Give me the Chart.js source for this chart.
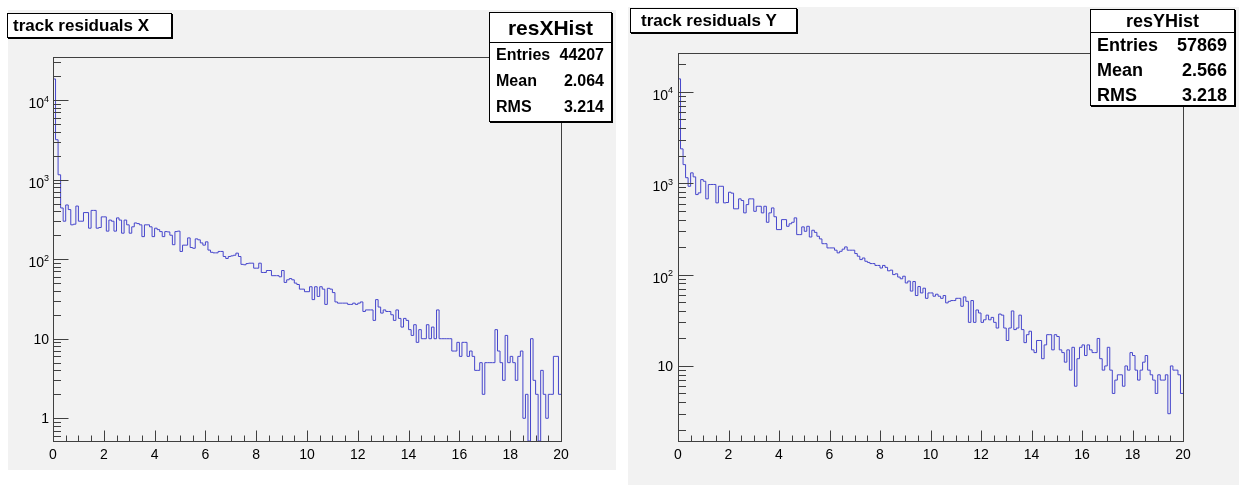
<!DOCTYPE html>
<html>
<head>
<meta charset="utf-8">
<title>track residuals</title>
<script src="https://cdn.jsdelivr.net/npm/chart.js@4.4.0/dist/chart.umd.min.js"></script>
<style>
  body { margin: 0; background: #fff; width: 1239px; height: 485px; position: relative; overflow: hidden;
         font-family: "Liberation Sans", Arial, Helvetica, sans-serif; }
  .pad { position: absolute; background: #f2f2f2; }
  canvas { position: absolute; top: 0; }
  .box { position: absolute; background: #fff; border: 1px solid #000; box-shadow: 1px 1px 0 #000;
         box-sizing: border-box; font-weight: bold; color: #000; white-space: nowrap; }
  .ttl { padding-left: 5px; }
  .hdr { text-align: center; border-bottom: 1px solid #000; }
  .row { display: flex; justify-content: space-between; }
</style>
</head>
<body>
<div class="pad" style="left:8px;top:10px;width:608px;height:460px"></div>
<div class="pad" style="left:628px;top:7px;width:611px;height:478px"></div>

<canvas id="chartX" width="620" height="485" style="left:0"></canvas>
<canvas id="chartY" width="619" height="485" style="left:620px"></canvas>

<div class="box ttl" style="left:7px;top:13px;width:165px;height:25px;font-size:17px;line-height:23px">track residuals X</div>
<div class="box" style="left:489px;top:12px;width:123px;height:110px;font-size:16px">
  <div class="hdr" style="height:29px;line-height:29px;font-size:21px">resXHist</div>
  <div style="padding:0 7px 0 6px;margin-top:-1px">
    <div class="row" style="line-height:26px"><span>Entries</span><span>44207</span></div>
    <div class="row" style="line-height:26px"><span>Mean</span><span>2.064</span></div>
    <div class="row" style="line-height:26px"><span>RMS</span><span>3.214</span></div>
  </div>
</div>

<div class="box ttl" style="left:630px;top:8px;width:167px;height:25px;font-size:17px;line-height:23px;padding-left:10px">track residuals Y</div>
<div class="box" style="left:1090px;top:9px;width:145px;height:97px;font-size:18px">
  <div class="hdr" style="height:22px;line-height:22px">resYHist</div>
  <div style="padding:0 7px 0 6px">
    <div class="row" style="line-height:25px"><span>Entries</span><span>57869</span></div>
    <div class="row" style="line-height:25px"><span>Mean</span><span>2.566</span></div>
    <div class="row" style="line-height:25px"><span>RMS</span><span>3.218</span></div>
  </div>
</div>

<script>
// 200 bins of width 0.1 from 0 to 20
const binWidth = 0.1;
const xTicks = [0, 2, 4, 6, 8, 10, 12, 14, 16, 18, 20];

// bin contents, track residuals X
const resX = [
  18400, 3170, 1150, 440, 300, 480, 420, 270, 275, 465,
  300, 300, 385, 385, 245, 410, 410, 245, 250, 340,
  340, 225, 310, 300, 225, 330, 310, 212, 310, 270,
  212, 255, 285, 280, 270, 192, 270, 270, 255, 192,
  245, 235, 222, 192, 222, 220, 200, 152, 222, 225,
  125, 150, 150, 185, 140, 137, 180, 175, 160, 150,
  165, 130, 122, 120, 120, 125, 125, 108, 102, 108,
  110, 112, 119, 108, 86, 85, 88, 89, 89, 77,
  77, 89, 68, 68, 72, 72, 62, 62, 62, 60,
  72, 51, 55, 57, 55, 50, 48, 42, 42, 39,
  39, 45, 31, 45, 34, 45, 42, 27, 43, 42,
  38, 29, 28, 28, 28, 28, 27, 27, 28, 27,
  28, 29, 22, 23, 23, 23, 17, 31, 25, 21,
  23, 22, 22, 20, 17, 23, 18, 14, 18, 17,
  13, 11, 15, 9, 13, 10, 10, 15, 10, 14,
  10, 23, 10, 10, 10, 10, 10, 7, 7, 9,
  6, 9, 9, 6, 7, 6, 4, 4, 5, 2,
  5, 5, 5, 5, 13, 7, 5, 3, 11, 5,
  6, 5, 3, 6, 7, 1, 2, 0, 10, 3,
  2, 0, 4, 2, 1, 2, 2, 6, 6, 2
];

// bin contents, track residuals Y
const resY = [
  13900, 2380, 1600, 1150, 927, 1300, 1175, 752, 785, 1097,
  1052, 675, 968, 970, 970, 610, 927, 927, 610, 615,
  798, 780, 525, 525, 675, 647, 474, 584, 675, 675,
  493, 560, 560, 474, 560, 374, 474, 537, 430, 311,
  311, 400, 400, 338, 360, 374, 418, 274, 274, 333,
  298, 338, 258, 306, 290, 263, 246, 218, 218, 196,
  196, 196, 185, 173, 180, 190, 201, 185, 185, 185,
  170, 159, 146, 152, 140, 136, 132, 132, 126, 126,
  118, 126, 120, 110, 112, 100, 102, 94, 90, 96,
  81, 85, 66, 84, 59, 74, 63, 71, 55, 63,
  63, 58, 61, 58, 55, 59, 49, 51, 52, 52,
  55, 55, 45, 57, 51, 30, 52, 30, 41, 38,
  30, 32, 36, 32, 34, 30, 26, 37, 36, 26,
  19, 26, 40, 25, 26, 36, 25, 18, 22, 24,
  15, 14, 19, 19, 12, 17, 22, 22, 15, 22,
  21, 15, 14, 11, 15, 9, 16, 6, 12, 16,
  17, 13, 17, 15, 14, 14, 20, 12, 9, 10,
  16, 9, 5, 7, 8, 8, 6, 10, 9, 14,
  13, 9, 7, 9, 11, 13, 9, 8, 7, 5,
  8, 7, 7, 8, 3, 10, 9, 9, 8, 5
];

// decade exponents that get a label on the y axis
const yExpX = [0, 1, 2, 3, 4];
const yExpY = [1, 2, 3, 4];

const FONT = '"Liberation Sans", Arial, Helvetica, sans-serif';

// ROOT style frame: box, ticks pointing inwards, labels outside
const rootFrame = {
  id: 'rootFrame',
  afterDatasetsDraw(chart, args, opts) {
    const ctx = chart.ctx, a = chart.chartArea;
    const xs = chart.scales.x, ys = chart.scales.y;
    const L = Math.round(a.left) + 0.5, R = Math.round(a.right) + 0.5;
    const T = Math.round(a.top) + 0.5, B = Math.round(a.bottom) + 0.5;
    ctx.save();
    ctx.lineWidth = 1;
    ctx.strokeStyle = '#404040';
    ctx.strokeRect(L, T, R - L, B - T);
    ctx.beginPath();
    for (let k = 0; k <= 40; k++) {
      const px = Math.round(xs.getPixelForValue(k * 0.5)) + 0.5;
      const len = k % 4 === 0 ? 11 : 6;
      ctx.moveTo(px, B);
      ctx.lineTo(px, B - len);
    }
    for (let e = -1; e <= 5; e++) {
      for (let m = 1; m <= 9; m++) {
        const v = m * Math.pow(10, e);
        if (v < ys.min || v > ys.max) continue;
        const py = Math.round(ys.getPixelForValue(v)) + 0.5;
        ctx.moveTo(L, py);
        ctx.lineTo(L + (m === 1 ? 15 : 7.5), py);
      }
    }
    ctx.stroke();

    ctx.fillStyle = '#000';
    ctx.font = '14px ' + FONT;
    ctx.textAlign = 'center';
    opts.xLabels.forEach(v => ctx.fillText(String(v), xs.getPixelForValue(v), B + 17));
    ctx.textAlign = 'right';
    const rx = L - opts.gap;
    opts.yExps.forEach(e => {
      const py = ys.getPixelForValue(Math.pow(10, e));
      if (e < 2) {
        ctx.font = '14px ' + FONT;
        ctx.fillText(e === 0 ? '1' : '10', rx, py + 5);
      } else {
        ctx.font = '9px ' + FONT;
        const ew = ctx.measureText(String(e)).width;
        ctx.fillText(String(e), rx, py + 1.5);
        ctx.font = '14px ' + FONT;
        ctx.fillText('10', rx - ew, py + 8);
      }
    });
    ctx.restore();
  }
};

// step outline: each value held over its bin, last edge closes at 20
function histPoints(vals, floor) {
  const pts = vals.map((v, i) => ({ x: i * binWidth, y: v > 0 ? v : floor }));
  pts.push({ x: vals.length * binWidth, y: pts[pts.length - 1].y });
  return pts;
}

function makeHist(id, vals, yMin, yMax, pad, yExps, gap) {
  new Chart(document.getElementById(id), {
    type: 'line',
    data: {
      datasets: [{
        data: histPoints(vals, yMin),
        stepped: 'before',
        borderColor: '#4646cc',
        borderWidth: 1,
        pointRadius: 0,
        fill: false
      }]
    },
    options: {
      responsive: false,
      animation: false,
      layout: { padding: pad },
      plugins: {
        legend: { display: false },
        title: { display: false },
        tooltip: { enabled: false },
        rootFrame: { xLabels: xTicks, yExps: yExps, gap: gap }
      },
      scales: {
        x: { type: 'linear', min: 0, max: 20, display: false },
        y: { type: 'logarithmic', min: yMin, max: yMax, display: false }
      }
    },
    plugins: [rootFrame]
  });
}

makeHist('chartX', resX, 0.518, 34750, { left: 53, top: 57, right: 59, bottom: 44 }, yExpX, 4.5);
makeHist('chartY', resY, 1.508, 26670, { left: 58, top: 53, right: 56, bottom: 44 }, yExpY, 5.5);
</script>
</body>
</html>
